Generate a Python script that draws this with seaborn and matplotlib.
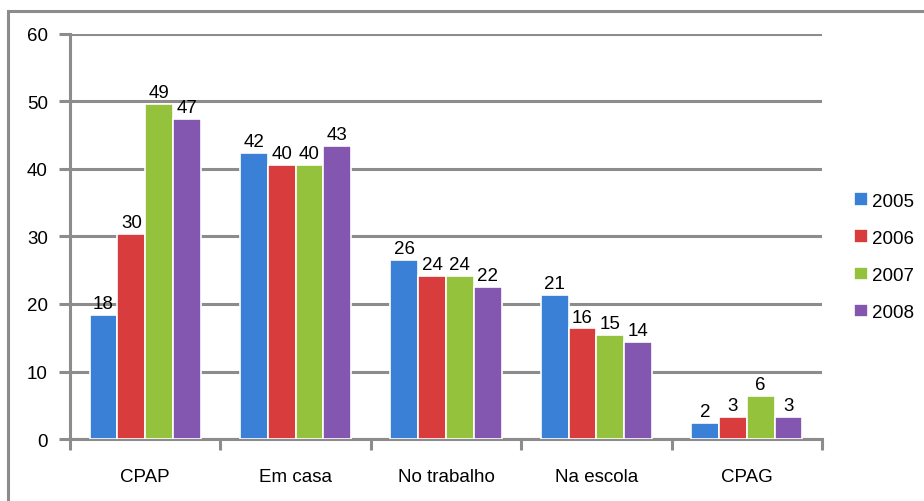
import pandas as pd
import seaborn as sns
import matplotlib.pyplot as plt
from matplotlib.patches import Rectangle

# data
categories = ["CPAP", "Em casa", "No trabalho", "Na escola", "CPAG"]
years = ["2005", "2006", "2007", "2008"]
v2005 = [18.4, 42.4, 26.5, 21.3, 2.4]
v2006 = [30.4, 40.6, 24.2, 16.4, 3.3]
v2007 = [49.6, 40.6, 24.2, 15.4, 6.4]
v2008 = [47.4, 43.4, 22.5, 14.4, 3.3]
labels2005 = ["18", "42", "26", "21", "2"]
labels2006 = ["30", "40", "24", "16", "3"]
labels2007 = ["49", "40", "24", "15", "6"]
labels2008 = ["47", "43", "22", "14", "3"]

colors = ["#3a80d6", "#d83c3c", "#94c23c", "#8356b0"]

rows = []
for yr, vals in zip(years, [v2005, v2006, v2007, v2008]):
    for c, v in zip(categories, vals):
        rows.append({"Local": c, "Ano": yr, "Valor": v})
df = pd.DataFrame(rows)

sns.set_style("white")
plt.rcParams['font.family'] = ['Liberation Sans', 'DejaVu Sans']
plt.rcParams['text.color'] = 'black'
plt.rcParams['xtick.color'] = 'black'
plt.rcParams['ytick.color'] = 'black'

fig = plt.figure(figsize=(9.24, 5.02), dpi=100)
ax = fig.add_axes([0.0758, 0.1235, 0.8138, 0.8068])

sns.barplot(data=df, x="Local", y="Valor", hue="Ano", palette=colors,
            saturation=1, width=0.74, ax=ax, edgecolor="white",
            linewidth=1.2, zorder=3)

allLabels = [labels2005, labels2006, labels2007, labels2008]
for cont, labs in zip(ax.containers, allLabels):
    ax.bar_label(cont, labels=labs, padding=2, fontsize=13.5, color="black", zorder=4)

ax.set_ylim(0, 60)
ax.set_xlim(-0.5, 4.5)
ax.set_yticks(range(0, 61, 10))
ax.yaxis.grid(True, color="#8c8c8c", linewidth=2.2, zorder=0)
ax.set_axisbelow(True)
for s in ["top", "right"]:
    ax.spines[s].set_visible(False)
ax.spines["left"].set_color("#8c8c8c")
ax.spines["left"].set_linewidth(2.2)
ax.spines["bottom"].set_color("#8c8c8c")
ax.spines["bottom"].set_linewidth(2.2)

ax.set_xticks(range(5))
ax.set_xticklabels(categories)
ax.tick_params(axis="x", length=0, pad=21, labelsize=13.5, labelcolor="black")
ax.tick_params(axis="y", length=8, width=2.2, color="#8c8c8c", left=True,
               pad=8, labelsize=13.5, labelcolor="black")
# category separator ticks
ax.set_xticks([-0.5, 0.5, 1.5, 2.5, 3.5, 4.5], minor=True)
ax.tick_params(axis="x", which="minor", length=8, width=2.2, color="#8c8c8c", bottom=True)
ax.set_xlabel("")
ax.set_ylabel("")

leg = ax.legend(loc="center left", bbox_to_anchor=(1.02, 0.45), frameon=False,
                fontsize=13.5, handlelength=0.75, handleheight=0.75,
                handletextpad=0.2, labelspacing=1.05)
for t in leg.get_texts():
    t.set_color("black")

# outer chart border
fig.patches.append(Rectangle((8 / 924, -0.1), 1.2, 1 - 12 / 502 + 0.1,
                             transform=fig.transFigure, fill=False,
                             edgecolor="#8c8c8c", linewidth=2.2))

fig.savefig("out.png", dpi=100)
